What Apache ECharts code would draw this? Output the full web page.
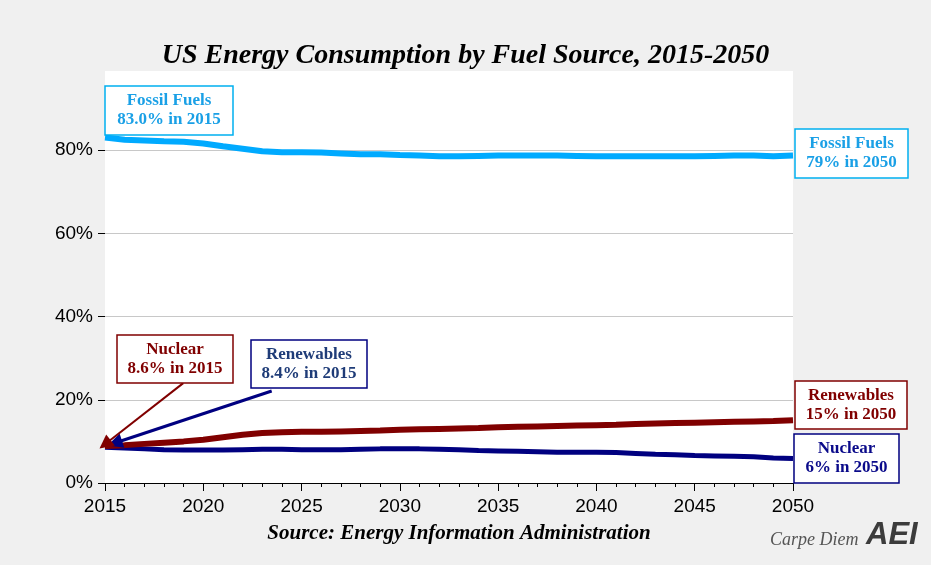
<!DOCTYPE html>
<html>
<head>
<meta charset="utf-8">
<script src="https://cdn.jsdelivr.net/npm/echarts@6/dist/echarts.min.js"></script>
<style>html,body{margin:0;padding:0;background:#f0f0f0;}#c{width:931px;height:565px;}</style>
</head>
<body>
<div id="c"></div>
<script>
const years = [2015,2016,2017,2018,2019,2020,2021,2022,2023,2024,2025,2026,2027,2028,2029,2030,2031,2032,2033,2034,2035,2036,2037,2038,2039,2040,2041,2042,2043,2044,2045,2046,2047,2048,2049,2050];
const fossil = [83.0,82.5,82.3,82.1,82.0,81.6,80.9,80.3,79.7,79.5,79.5,79.4,79.2,79.0,79.0,78.8,78.7,78.5,78.5,78.6,78.7,78.7,78.7,78.7,78.6,78.5,78.5,78.5,78.5,78.5,78.5,78.6,78.7,78.7,78.5,78.7];
const renewables = [8.9,9.1,9.4,9.7,10.0,10.4,11.0,11.6,12.0,12.2,12.3,12.3,12.4,12.5,12.6,12.8,12.9,13.0,13.1,13.2,13.4,13.5,13.6,13.7,13.8,13.9,14.0,14.2,14.3,14.4,14.5,14.6,14.7,14.8,14.9,15.1];
const nuclear = [8.6,8.4,8.2,8.0,7.9,7.9,7.9,8.0,8.1,8.1,8.0,8.0,8.0,8.1,8.2,8.2,8.2,8.1,8.0,7.8,7.7,7.6,7.5,7.4,7.4,7.4,7.3,7.1,6.9,6.8,6.6,6.5,6.4,6.3,6.0,5.9];
const yTicks = [0,20,40,60,80];
// annotation arrows (data coordinates: [year, percent])
const redArrow = [[2018.98, 24.0],[2015.0, 9.3]];
const blueArrow = [[2023.48, 22.1],[2015.5, 9.6]];

const title = 'US Energy Consumption by Fuel Source, 2015-2050';
const source = 'Source: Energy Information Administration';

const pair = arr => years.map((y,i)=>[y,arr[i]]);

const C_FOSSIL = '#00aaff', C_FOSSIL_T = '#1aa0e6';
const C_RED = '#800000', C_BLUE = '#000080';
const boxFont = 'bold 17px "Liberation Serif", serif';

function box(x,y,w,h,border,color,text){
  return [
    {type:'rect', z:50, shape:{x:x,y:y,width:w,height:h}, style:{fill:'#fff', stroke:border, lineWidth:1.5}},
    {type:'text', z:51, x:x+w/2, y:y+h/2, style:{text:text, font:boxFont, fill:color, align:'center', verticalAlign:'middle', lineHeight:19}}
  ];
}

const chart = echarts.init(document.getElementById('c'));
chart.setOption({
  backgroundColor:'#f0f0f0',
  animation:false,
  title:{text:title, left:'center', top:37, textStyle:{fontFamily:'Liberation Serif', fontSize:28, fontWeight:'bold', fontStyle:'italic', color:'#000'}},
  grid:{left:105, right:138, top:71, bottom:82, show:true, backgroundColor:'#fff', borderWidth:0},
  xAxis:{type:'value', min:2015, max:2050, interval:5,
    axisLine:{show:true, onZero:false, lineStyle:{color:'#000', width:1}},
    axisTick:{show:true, length:8, lineStyle:{color:'#000'}},
    minorTick:{show:true, splitNumber:5, length:4, lineStyle:{color:'#000'}},
    splitLine:{show:false},
    axisLabel:{color:'#000', fontFamily:'Liberation Sans', fontSize:19, margin:14, formatter:v=>String(v)}
  },
  yAxis:{type:'value', min:0, max:99, interval:20,
    axisLine:{show:false},
    axisTick:{show:true, length:7, customValues:yTicks, lineStyle:{color:'#000'}},
    axisLabel:{customValues:yTicks, formatter:'{value}%', color:'#000', fontFamily:'Liberation Sans', fontSize:19, margin:12},
    splitLine:{show:true, lineStyle:{color:'#c8c8c8', width:1}}
  },
  series:[
    {type:'line', name:'Fossil Fuels', data:pair(fossil), showSymbol:false, lineStyle:{color:C_FOSSIL, width:6}, z:3},
    {type:'line', name:'Nuclear', data:pair(nuclear), showSymbol:false, lineStyle:{color:C_BLUE, width:5}, z:3,
      markLine:{silent:true, symbol:['none','triangle'], symbolSize:[15,15], label:{show:false}, lineStyle:{color:C_BLUE, width:3, type:'solid'},
        data:[[{coord:blueArrow[0]},{coord:blueArrow[1]}]]}},
    {type:'line', name:'Renewables', data:pair(renewables), showSymbol:false, lineStyle:{color:C_RED, width:6}, z:4,
      markLine:{silent:true, symbol:['none','triangle'], symbolSize:[14,14], label:{show:false}, lineStyle:{color:C_RED, width:2, type:'solid'},
        data:[[{coord:redArrow[0]},{coord:redArrow[1]}]]}}
  ],
  graphic:[].concat(
    box(105,86,128,49,'#00b0f0',C_FOSSIL_T,'Fossil Fuels\n83.0% in 2015'),
    box(795,129,113,49,'#00b0f0',C_FOSSIL_T,'Fossil Fuels\n79% in 2050'),
    box(117,335,116,48,C_RED,C_RED,'Nuclear\n8.6% in 2015'),
    box(251,340,116,48,C_BLUE,'#1f3c78','Renewables\n8.4% in 2015'),
    box(795,381,112,48,C_RED,C_RED,'Renewables\n15% in 2050'),
    box(794,434,105,49,C_BLUE,'#0a0a8a','Nuclear\n6% in 2050'),
    [
      {type:'text', z:60, x:459, y:534, style:{text:source, font:'bold italic 21px "Liberation Serif", serif', fill:'#000', align:'center', verticalAlign:'middle'}},
      {type:'text', z:60, x:770, y:540, style:{text:'Carpe Diem', font:'italic 18px "Liberation Serif", serif', fill:'#555', align:'left', verticalAlign:'middle'}},
      {type:'text', z:60, x:866, y:535, style:{text:'AEI', font:'bold italic 31px "Liberation Sans", sans-serif', fill:'#3c3c3c', align:'left', verticalAlign:'middle'}}
    ]
  )
});
</script>
</body>
</html>
